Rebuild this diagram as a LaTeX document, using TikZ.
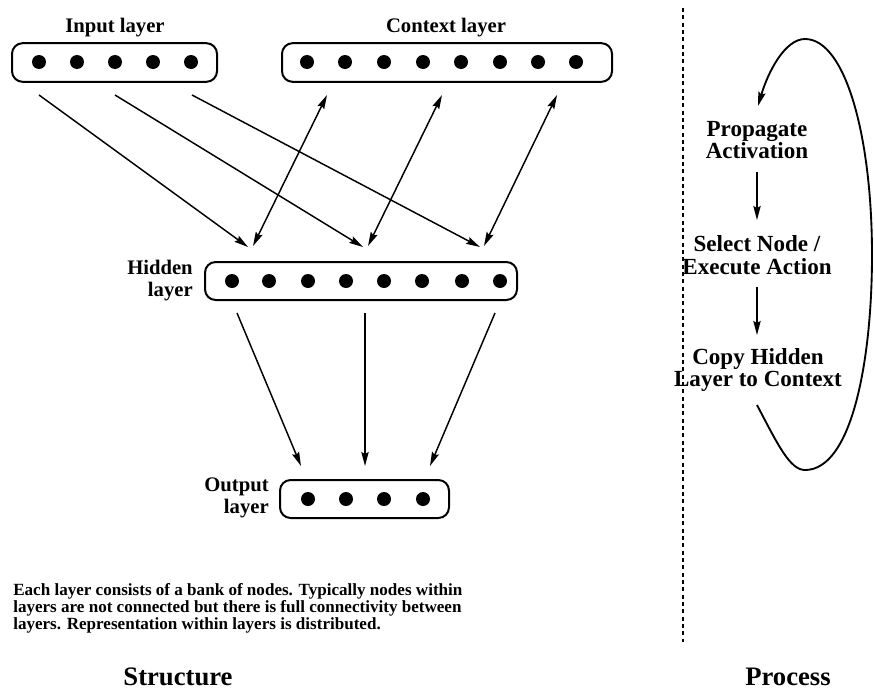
\documentclass[tikz,border=0pt]{standalone}
\usepackage{fontspec}
\setmainfont{Liberation Serif}
\usetikzlibrary{arrows.meta}
\begin{document}
\begin{tikzpicture}[x=0.75pt,y=-0.75pt,
  layerbox/.style={draw, line width=1.5pt, rounded corners=8pt, minimum height=29pt, inner sep=0pt},
  dot/.style={circle, fill, inner sep=0pt, minimum size=10.5pt},
  lbl/.style={font=\bfseries\fontsize{15.5}{16.5}\selectfont, inner sep=0pt},
  plbl/.style={font=\bfseries\fontsize{17.3}{17}\selectfont, inner sep=0pt, align=center},
  para/.style={font=\bfseries\fontsize{12.8}{12.75}\selectfont, inner sep=0pt, align=left},
  ttl/.style={font=\bfseries\fontsize{20}{22}\selectfont, inner sep=0pt},
  tip/.tip={Stealth[length=10.5pt,width=5.5pt,inset=1.5pt]},
  conn/.style={line width=1.1pt, -tip},
  dconn/.style={line width=1.1pt, tip-tip},
  cycle/.style={line width=1.4pt, -tip},
]
\useasboundingbox (0,0) rectangle (875,689);

% layer boxes
\node[layerbox, minimum width=153.75pt] (inbox) at (114.5,62.5) {};
\node[layerbox, minimum width=247.5pt] (ctxbox) at (447,62.5) {};
\node[layerbox, minimum width=234pt, minimum height=28.5pt] (hidbox) at (361,281) {};
\node[layerbox, minimum width=126.75pt, minimum height=28.5pt] (outbox) at (364.5,499) {};

% dots
\foreach \x [count=\i] in {39,77,115,153,191} \node[dot] (in\i) at (\x,62) {};
\foreach \x [count=\i] in {307,345,384,423,461,500,538,576} \node[dot] (ctx\i) at (\x,62) {};
\foreach \x [count=\i] in {232,269,308,346,384,422,462,500} \node[dot] (hid\i) at (\x,281) {};
\foreach \x [count=\i] in {308,346,384,423} \node[dot] (out\i) at (\x,499) {};

% labels
\node[lbl, anchor=base] (inlbl) at (115,32) {Input layer};
\node[lbl, anchor=base] (ctxlbl) at (446,32) {Context layer};
\node[lbl, align=right, anchor=east] (hidlbl) at (193,281) {Hidden\\layer};
\node[lbl, align=right, anchor=east] (outlbl) at (269,498) {Output\\layer};

% connector end points
\coordinate (ia1) at (39,95);  \coordinate (ib1) at (248,247);
\coordinate (ia2) at (115,95); \coordinate (ib2) at (363,247);
\coordinate (ia3) at (192,95); \coordinate (ib3) at (480,247);
\coordinate (ca1) at (327,95); \coordinate (cb1) at (253,246);
\coordinate (ca2) at (442,95); \coordinate (cb2) at (368,246);
\coordinate (ca3) at (557,95); \coordinate (cb3) at (484,246);
\coordinate (ha1) at (237,313); \coordinate (hb1) at (301,466);
\coordinate (ha2) at (365,313); \coordinate (hb2) at (365,466);
\coordinate (ha3) at (495,313); \coordinate (hb3) at (430,466);

\draw[conn] (ia1) -- (ib1);
\draw[conn] (ia2) -- (ib2);
\draw[conn] (ia3) -- (ib3);
\draw[dconn] (ca1) -- (cb1);
\draw[dconn] (ca2) -- (cb2);
\draw[dconn] (ca3) -- (cb3);
\draw[conn] (ha1) -- (hb1);
\draw[conn] (ha2) -- (hb2);
\draw[conn] (ha3) -- (hb3);

% description
\node[para, anchor=base west] (desc) at (13,629) {Each layer consists of a bank of nodes. Typically nodes within\\layers are not connected but there is full connectivity between\\layers. Representation within layers is distributed.};

% titles
\node[ttl, anchor=base] (struct) at (178,685) {Structure};
\node[ttl, anchor=base] (proc) at (788,685) {Process};

% divider
\coordinate (dtop) at (683,8);
\coordinate (dbot) at (683,642);
\draw[line width=1.2pt, dash pattern=on 3pt off 2.5pt] (dtop) -- (dbot);

% process
\node[plbl] (prop) at (757,140) {Propagate\\Activation};
\node[plbl] (sel) at (757,255) {Select Node /\\Execute Action};
\node[plbl] (copy) at (758,370) {Copy Hidden\\Layer to Context};
\coordinate (p1a) at (757,172); \coordinate (p1b) at (757,220);
\coordinate (p2a) at (757,287); \coordinate (p2b) at (757,335);
\draw[conn] (p1a) -- (p1b);
\draw[conn] (p2a) -- (p2b);

\coordinate (loopS) at (757,405);
\coordinate (loopE) at (758,106);
\draw[cycle] (loopS) .. controls (778,445) and (790,470) .. (805,470)
  .. controls (852,470) and (872,360) .. (872,255)
  .. controls (872,135) and (845,39) .. (805,39)
  .. controls (785,39) and (768,72) .. (loopE);
\end{tikzpicture}
\end{document}
